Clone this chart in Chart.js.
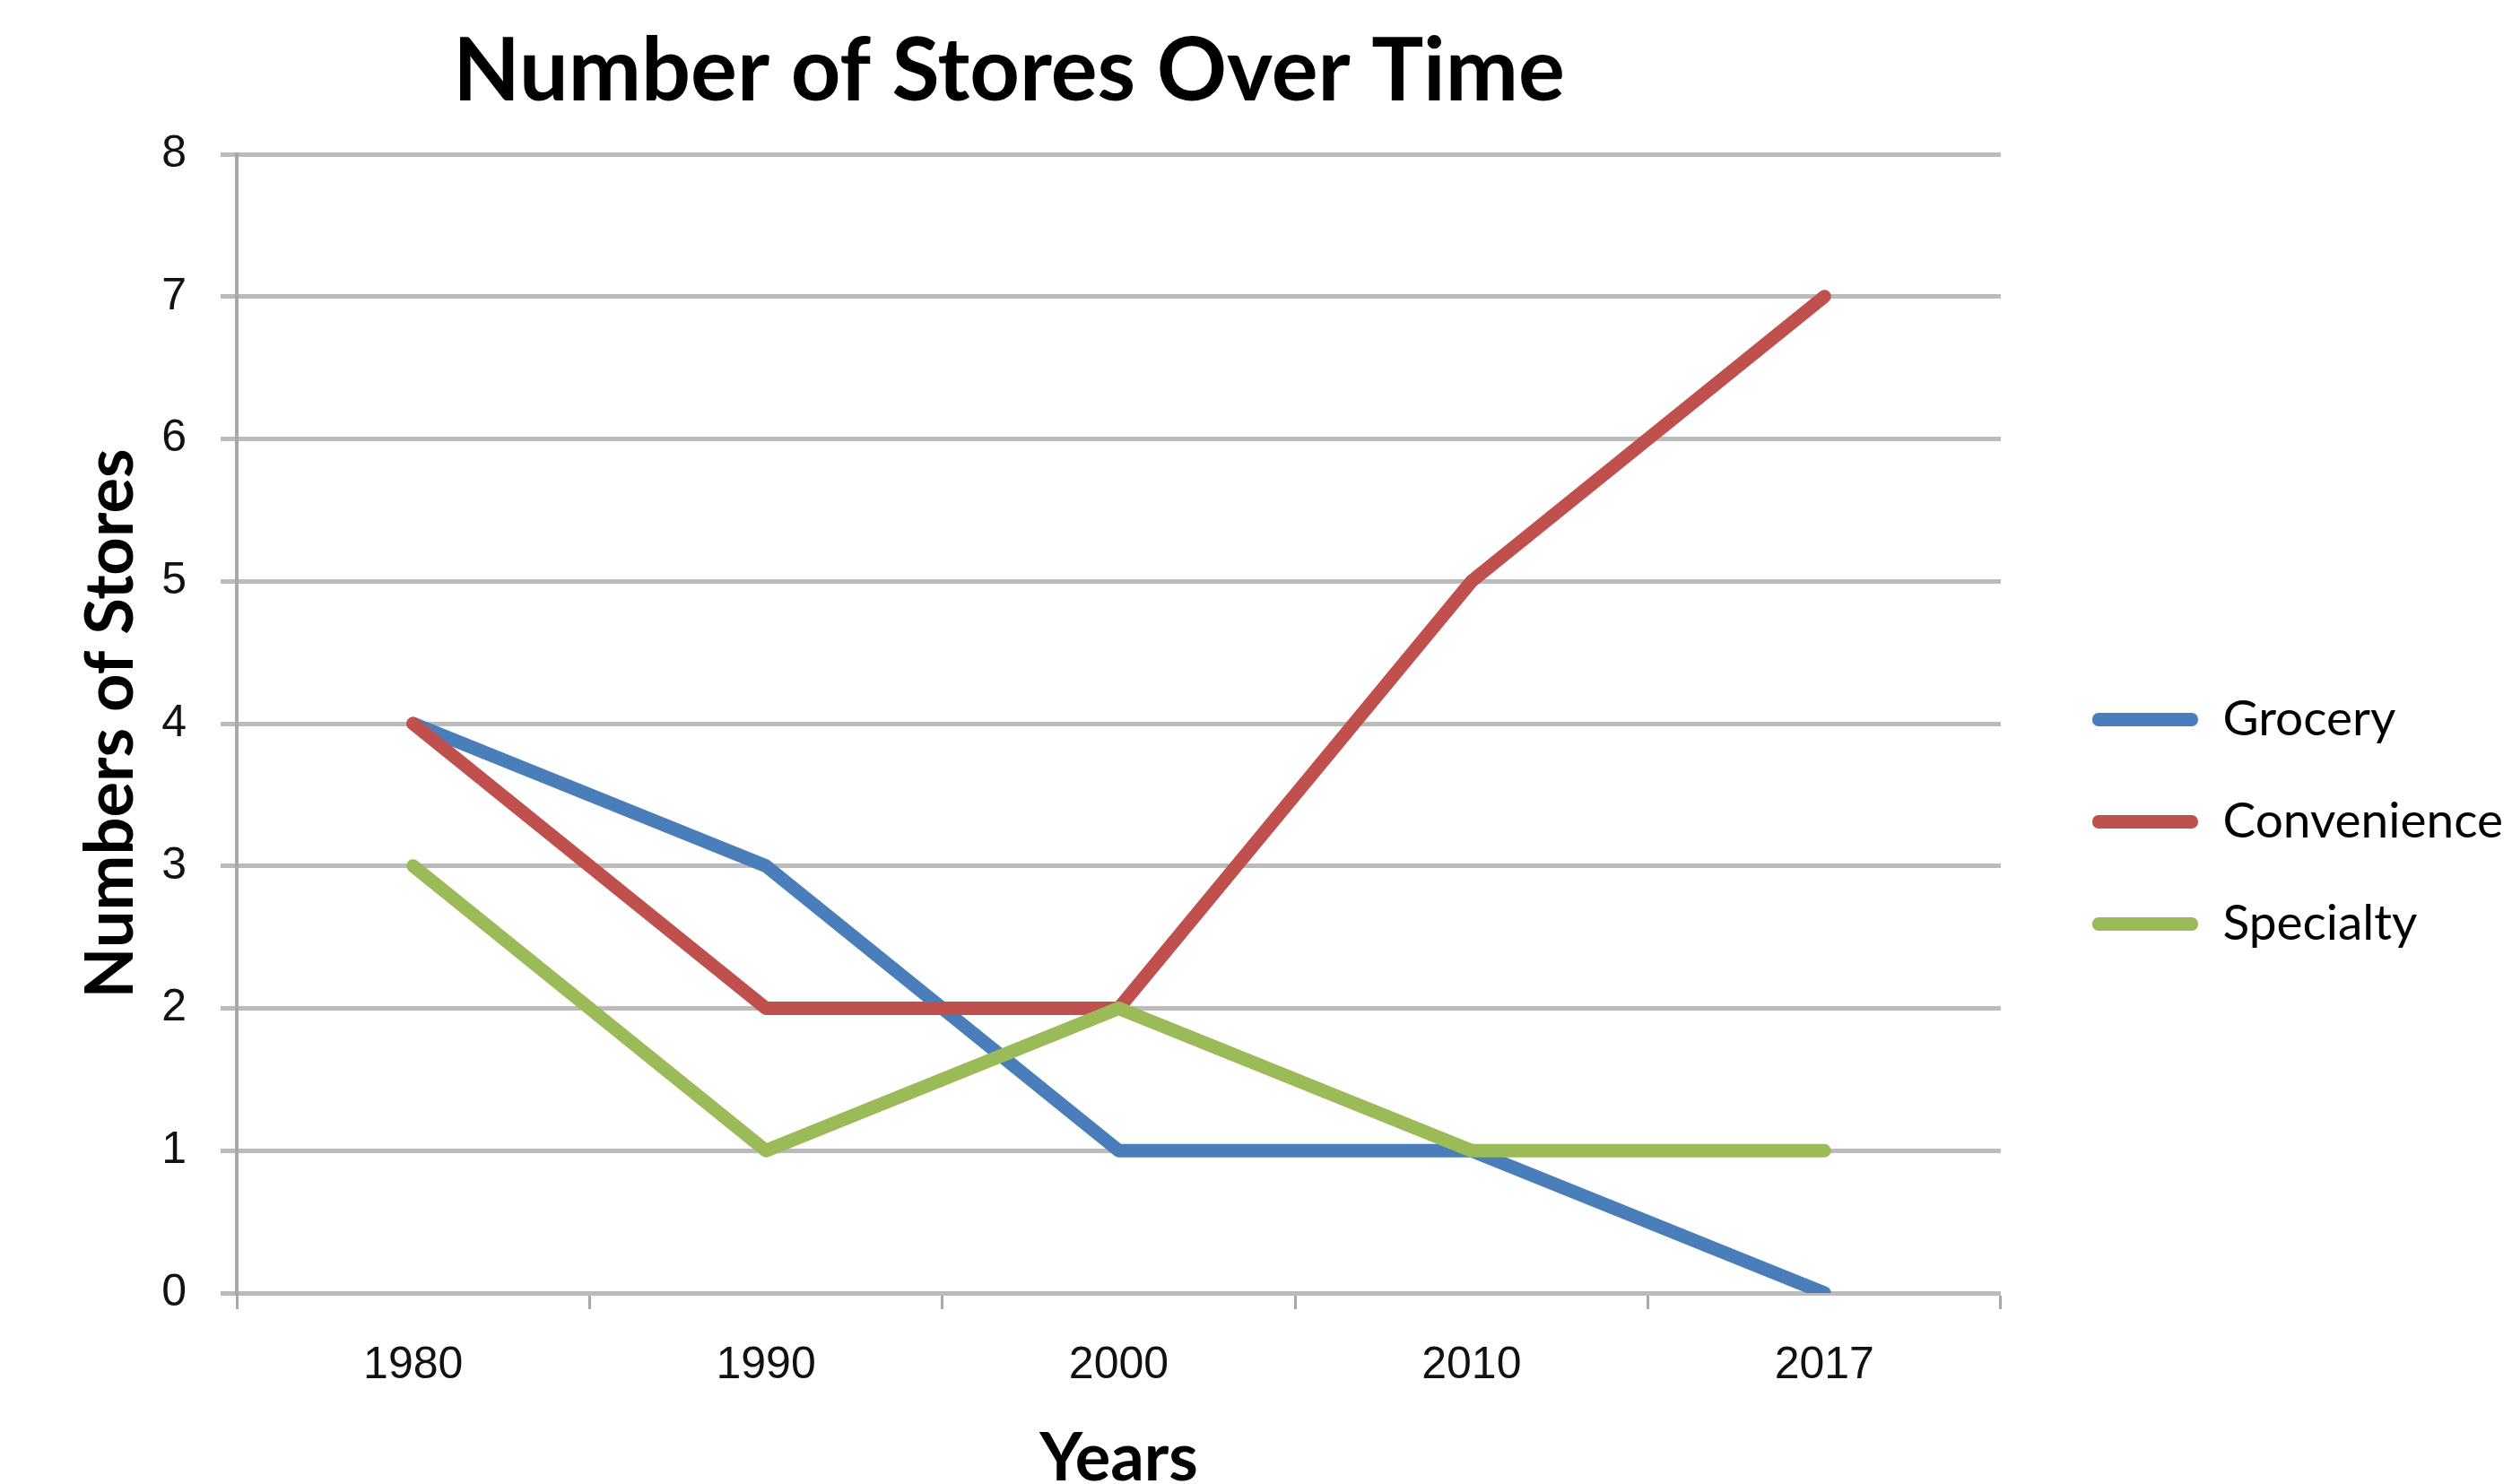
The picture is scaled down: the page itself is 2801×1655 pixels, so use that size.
<!DOCTYPE html>
<html>
<head>
<meta charset="utf-8">
<title>Number of Stores Over Time</title>
<script src="https://cdn.jsdelivr.net/npm/chart.js@4.4.1/dist/chart.umd.min.js"></script>
<style>
  html, body { margin: 0; padding: 0; background: #fff; overflow: hidden; }
  canvas { display: block; }
</style>
</head>
<body>
<canvas id="storesChart" width="2801" height="1655"></canvas>
<script>
// data
const years = ["1980", "1990", "2000", "2010", "2017"];
const grocery = [4, 3, 1, 1, 0];
const convenience = [4, 2, 2, 5, 7];
const specialty = [3, 1, 2, 1, 1];

const chartTitle = "Number of Stores Over Time";
const xTitle = "Years";
const yTitle = "Numbers of Stores";

const gridGray = "#bbbbbb";
const axisGray = "#a8a8a8";

// title is drawn a bit left of the canvas centre, like the original
const titlePlugin = {
  id: "bigTitle",
  afterDraw(chart) {
    const ctx = chart.ctx;
    ctx.save();
    ctx.font = "bold 97px Lato";
    ctx.fillStyle = "#000";
    ctx.textAlign = "center";
    ctx.textBaseline = "alphabetic";
    ctx.fillText(chartTitle, 1125, 112);
    ctx.restore();
  }
};

const whiteBg = {
  id: "whiteBg",
  beforeDraw(chart) {
    const ctx = chart.ctx;
    ctx.save();
    ctx.fillStyle = "#fff";
    ctx.fillRect(0, 0, chart.width, chart.height);
    ctx.restore();
  }
};

function line(label, data, color, order) {
  return {
    label: label,
    data: data,
    borderColor: color,
    backgroundColor: color,
    borderWidth: 15,
    pointRadius: 0,
    tension: 0,
    borderCapStyle: "round",
    borderJoinStyle: "round",
    order: order
  };
}

const ctx = document.getElementById("storesChart").getContext("2d");
new Chart(ctx, {
  type: "line",
  data: {
    labels: years,
    datasets: [
      line("Grocery", grocery, "#4a7ebb", 3),
      line("Convenience", convenience, "#c0504d", 2),
      line("Specialty", specialty, "#9bbb59", 1)
    ]
  },
  options: {
    responsive: false,
    animation: false,
    layout: { padding: { top: 172, left: 0, right: 0, bottom: 0 } },
    plugins: {
      title: { display: false },
      tooltip: { enabled: false },
      legend: {
        position: "right",
        align: "start",
        fullSize: false,
        maxWidth: 700,
        title: { display: true, text: " ", font: { size: 10, lineHeight: 1 }, padding: { top: 534, bottom: 0 } },
        labels: {
          boxWidth: 118,
          boxHeight: 15,
          padding: 59,
          color: "#000",
          font: { family: "Lato", size: 55 },
          useBorderRadius: true,
          borderRadius: 7,
          sort: (a, b) => a.datasetIndex - b.datasetIndex,
          generateLabels: (chart) =>
            Chart.defaults.plugins.legend.labels.generateLabels(chart).map(l => ({ ...l, lineWidth: 0 }))
        }
      }
    },
    scales: {
      x: {
        offset: true,
        afterFit: (s) => { s.height = 213; },
        grid: {
          offset: true,
          drawOnChartArea: false,
          drawTicks: true,
          tickLength: 18,
          tickWidth: 3,
          tickColor: axisGray
        },
        border: { color: gridGray, width: 5 },
        ticks: {
          padding: 33,
          color: "#111",
          font: { family: "Liberation Sans", size: 50 }
        },
        title: {
          display: true,
          text: xTitle,
          color: "#000",
          font: { family: "Lato", weight: "bold", size: 74, lineHeight: 1 },
          padding: { top: 0, bottom: -9 }
        }
      },
      y: {
        min: 0,
        max: 8,
        afterFit: (s) => { s.width = 264; },
        ticks: {
          stepSize: 1,
          padding: 38,
          color: "#111",
          font: { family: "Liberation Sans", size: 50 }
        },
        grid: {
          color: gridGray,
          lineWidth: 5,
          tickLength: 18
        },
        border: { color: axisGray, width: 4 },
        title: {
          display: true,
          text: yTitle,
          color: "#000",
          font: { family: "Lato", weight: "bold", size: 74, lineHeight: 1 },
          padding: { top: 87, bottom: 0 }
        }
      },
      // empty spacer between plot and legend
      gap: {
        type: "linear",
        position: "right",
        display: true,
        afterFit: (s) => { s.width = 43; },
        grid: { display: false },
        border: { display: false },
        ticks: { display: false }
      }
    }
  },
  plugins: [whiteBg, titlePlugin]
});
</script>
</body>
</html>
